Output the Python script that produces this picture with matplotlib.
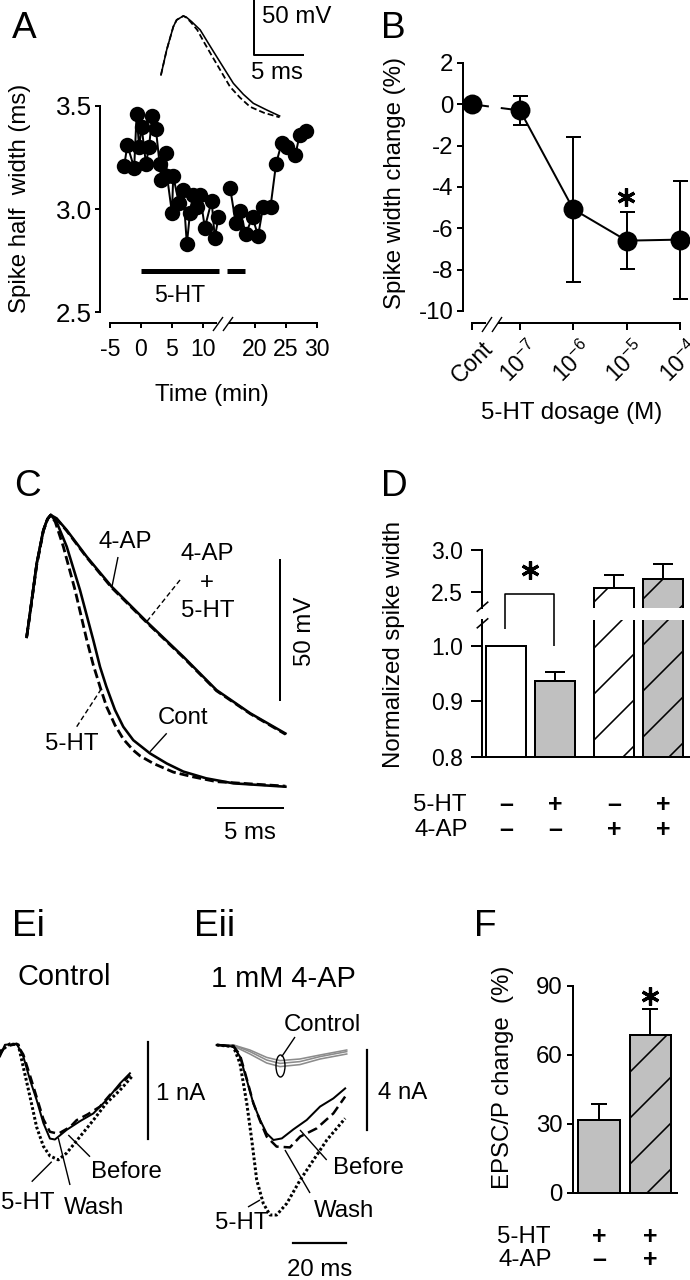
import numpy as np
import matplotlib
matplotlib.use("Agg")
import matplotlib.pyplot as plt
from matplotlib.patches import Ellipse, Rectangle
from matplotlib.transforms import blended_transform_factory

DPI = 138
W, H = 690, 1280


def pt(px):
    # every size below in pixels
    return px * 72.0 / DPI


plt.rcParams['font.family'] = ['Liberation Sans', 'DejaVu Sans']
plt.rcParams['mathtext.fontset'] = 'custom'
plt.rcParams['mathtext.rm'] = 'Liberation Sans'
plt.rcParams['mathtext.it'] = 'Liberation Sans:italic'
plt.rcParams['mathtext.bf'] = 'Liberation Sans:bold'
plt.rcParams['hatch.linewidth'] = pt(1.6)
plt.rcParams['hatch.color'] = 'k'
plt.rcParams['lines.scale_dashes'] = False
plt.rcParams['axes.linewidth'] = pt(2)
plt.rcParams['axes.unicode_minus'] = False

TICK = 23
LAB = 23

# ---- A: spike half width (ms) vs time (min), two segments around the break
a_t1 = [-2.7, -2.2, -1.1, -0.7, -0.3, 0.1, 0.8, 1.3, 1.8, 2.4, 3.0, 3.3, 4.0, 4.2,
        5.0, 5.2, 6.1, 6.8, 7.4, 7.9, 8.4, 9.0, 9.5, 10.3, 11.4, 11.9, 12.5]
a_w1 = [3.21, 3.31, 3.20, 3.46, 3.30, 3.40, 3.22, 3.30, 3.45, 3.39, 3.22, 3.14, 3.27, 3.16,
        2.98, 3.16, 3.03, 3.09, 2.83, 2.98, 3.07, 3.01, 3.07, 2.91, 3.04, 2.86, 2.96]
a_t2 = [16.0, 16.9, 17.6, 18.5, 19.6, 20.5, 21.3, 22.5, 23.4, 24.3, 25.2, 26.5, 27.2, 28.2]
a_w2 = [3.10, 2.93, 2.99, 2.88, 2.96, 2.87, 3.01, 3.01, 3.22, 3.32, 3.30, 3.26, 3.36, 3.38]
a_drug = [(0.0, 12.6), (15.5, 18.4)]
a_xticks = [-5, 0, 5, 10, 20, 25, 30]

# inset spikes in A (ms, mV)
ai_t_cont = [0, 0.58, 1.26, 1.6, 2.28, 2.6, 3.13, 4.0, 4.83, 5.68, 6.53, 7.38, 8.4, 9.42, 10.8, 12.1]
ai_v_cont = [-23.6, -0.9, 20.3, 26.4, 30.0, 28.8, 24.8, 17.3, 5.2, -7.0, -19.1, -31.2, -41.2, -49.4, -55.5, -60.9]
ai_t_5ht = [0, 0.58, 1.26, 1.6, 2.28, 2.55, 3.0, 3.7, 4.5, 5.34, 6.2, 7.04, 8.06, 9.08, 10.5, 12.1]
ai_v_5ht = [-23.6, -0.9, 20.3, 26.4, 30.0, 28.8, 24.8, 17.3, 4.4, -8.5, -21.5, -34.3, -44.2, -52.5, -58.0, -62.1]

# ---- B: dose response
b_labels = ['Cont', '10$^{-7}$', '10$^{-6}$', '10$^{-5}$', '10$^{-4}$']
b_pos = [-7.9, -7, -6, -5, -4]     # log10 dose, control parked left of the break
b_mean = [0.0, -0.3, -5.08, -6.6, -6.55]
b_err = [0.0, 0.68, 3.5, 1.37, 2.85]

# ---- C: spikes with 4-AP (ms, mV)
c_t_4ap = [0, 0.25, 0.77, 1.28, 1.6, 1.85, 2.3, 3.08, 4.62, 6.54, 9.23, 12.05, 14.6, 17.2, 19.9]
c_v_4ap = [-13.5, -5.1, 12.7, 24.6, 28.6, 30.0, 28.8, 24.6, 15.1, 4.4, -8.1, -20.6, -32.5, -40.8, -48.0]
c_v_4ap5ht = [-13.5, -5.4, 12.2, 24.3, 28.5, 30.0, 28.6, 24.3, 14.8, 4.0, -8.4, -20.9, -32.8, -41.0, -48.3]
c_t_cont = [0, 0.25, 0.77, 1.28, 1.6, 1.85, 2.3, 3.08, 4.1, 5.12, 5.64, 6.13, 6.79, 7.43, 8.2,
            9.48, 10.77, 12.05, 13.8, 15.9, 19.9]
c_v_cont = [-13.5, -5.1, 12.7, 24.6, 28.6, 30.0, 27.5, 18.7, 3.2, -14.6, -24.2, -31.3, -39.6, -45.6, -50.4,
            -55.1, -58.7, -61.6, -64.0, -65.8, -67.0]
c_t_5ht = [0, 0.25, 0.77, 1.28, 1.6, 1.85, 2.2, 2.82, 3.72, 4.62, 5.12, 5.64, 6.15, 6.79, 7.43,
           8.2, 8.72, 9.74, 11.28, 12.8, 14.6, 19.9]
c_v_5ht = [-13.5, -5.4, 12.2, 24.3, 28.5, 30.0, 27.5, 18.7, 3.2, -14.6, -23.5, -31.3, -38.5, -45.0, -50.0,
           -54.0, -56.0, -58.7, -61.8, -63.5, -65.2, -66.8]

# ---- D: normalized spike width
d_pos = [0, 1, 2.2, 3.2]
d_height = [1.0, 0.937, 2.54, 2.65]
d_err = [0.0, 0.015, 0.16, 0.18]
d_color = ['white', '#c0c0c0', 'white', '#c0c0c0']
d_hatch = ['', '', '/', '/']
d_5ht = ['\u2013', '+', '\u2013', '+']
d_4ap = ['\u2013', '\u2013', '+', '+']

# ---- Ei: EPSC, control (ms, nA)
ei_t_before = [0, 1.9, 6.4, 8.9, 11.5, 14.0, 16.6, 19.1, 21.0, 25.5, 30.6, 35.7, 40.8, 45.9, 49.7]
ei_i_before = [-0.10, 0.02, 0.03, -0.10, -0.345, -0.55, -0.79, -0.95, -0.96, -0.86, -0.77, -0.69, -0.55, -0.38, -0.275]
ei_t_wash = [0, 1.9, 6.4, 8.9, 11.5, 14.0, 16.6, 19.1, 22.3, 26.8, 29.3, 33.5, 38.2, 42.0, 45.9, 49.7]
ei_i_wash = [-0.08, 0.0, 0.03, -0.08, -0.30, -0.52, -0.75, -0.88, -0.90, -0.83, -0.76, -0.70, -0.62, -0.50, -0.40, -0.29]
ei_t_5ht = [0, 3.8, 7.0, 8.9, 11.5, 14.0, 16.6, 19.1, 22.3, 25.5, 30.6, 35.7, 40.8, 45.9, 50.4]
ei_i_5ht = [-0.05, 0.03, 0.02, -0.21, -0.52, -0.83, -1.03, -1.13, -1.17, -1.10, -0.93, -0.76, -0.58, -0.45, -0.31]

# ---- Eii: EPSC, 1 mM 4-AP (ms, nA)
e2_t_ctrl = [0, 6.4, 12.7, 19.1, 24.2, 31.8, 39.5, 49.7]
e2_ctrl1 = [0, 0, -0.33, -0.75, -0.92, -0.83, -0.58, -0.33]
e2_ctrl2 = [0, -0.05, -0.45, -0.90, -1.08, -0.98, -0.70, -0.45]
e2_ctrl3 = [0, 0, -0.25, -0.62, -0.78, -0.70, -0.50, -0.25]
e2_t_before = [0, 6.4, 8.9, 11.5, 14.0, 16.6, 19.1, 21.7, 24.9, 29.3, 34.4, 39.5, 44.6, 49.1]
e2_i_before = [0, -0.08, -0.58, -1.75, -2.92, -3.75, -4.42, -4.75, -4.67, -4.22, -3.75, -3.08, -2.67, -2.17]
e2_t_wash = [0, 6.4, 8.9, 11.5, 14.0, 16.6, 19.1, 22.9, 28.0, 31.9, 38.2, 44.6, 49.1]
e2_i_wash = [0, -0.05, -0.5, -1.7, -2.9, -3.8, -4.58, -5.08, -5.12, -4.58, -4.17, -3.42, -2.58]
e2_t_5ht = [0, 6.4, 8.9, 11.5, 13.4, 15.3, 17.8, 20.4, 22.9, 26.8, 31.9, 37.0, 42.1, 49.1]
e2_i_5ht = [0, -0.08, -0.92, -2.92, -4.75, -6.75, -7.92, -8.5, -8.5, -7.92, -6.75, -5.75, -4.75, -3.67]

# ---- F: EPSC/P change
f_pos = [0, 1]
f_height = [31.6, 68.7]
f_err = [7.0, 11.3]
f_hatch = ['', '/']
f_5ht = ['+', '+']
f_4ap = ['\u2013', '+']


fig = plt.figure(figsize=(W / DPI, H / DPI), dpi=DPI)


def px_axes(x0, y0, x1, y1, **kw):
    return fig.add_axes([x0 / W, 1 - y1 / H, (x1 - x0) / W, (y1 - y0) / H], **kw)


cv = px_axes(0, 0, W, H, zorder=20)
cv.set_xlim(0, W)
cv.set_ylim(H, 0)
cv.axis('off')


def txt(x, y, s, size=LAB, **kw):
    kw.setdefault('ha', 'center')
    kw.setdefault('va', 'center')
    cv.text(x, y, s, fontsize=pt(size), **kw)


def seg(xs, ys, lw=1.4, **kw):
    cv.plot(xs, ys, color='k', lw=pt(lw), solid_capstyle='butt', **kw)


def frame(ax):
    for s in ('top', 'right'):
        ax.spines[s].set_visible(False)
    ax.tick_params(width=pt(2), labelsize=pt(TICK))
    ax.patch.set_alpha(0)


# ================= A
def fwd(t):
    t = np.asarray(t, dtype=float)
    return np.where(t <= 13, t, np.where(t >= 15, t - 1.61, 13 + (t - 13) * 0.195))


def inv(u):
    u = np.asarray(u, dtype=float)
    return np.where(u <= 13, u, np.where(u >= 13.39, u + 1.61, 13 + (u - 13) / 0.195))


axA = px_axes(100, 100, 317, 323)
axA.set_xscale('function', functions=(fwd, inv))
for t, w in ((a_t1, a_w1), (a_t2, a_w2)):
    axA.plot(t, w, '-o', color='k', lw=pt(2), ms=pt(13.5), clip_on=False)
for t0, t1 in a_drug:
    axA.plot([t0, t1], [2.70, 2.70], color='k', lw=pt(5), solid_capstyle='butt')
axA.text(6.3, 2.58, '5-HT', ha='center', va='center', fontsize=pt(LAB))
axA.set_xlim(-6.61, 30)
axA.set_ylim(2.447, 3.529)
axA.set_xticks(a_xticks)
axA.set_xticklabels([str(v) for v in a_xticks])
axA.set_yticks([2.5, 3.0, 3.5])
axA.set_yticklabels(['2.5', '3.0', '3.5'])
frame(axA)
axA.spines['left'].set_bounds(2.5, 3.5)
axA.spines['bottom'].set_bounds(-5, 30)
axA.tick_params(axis='x', length=pt(5), pad=pt(10))
axA.tick_params(axis='y', length=pt(5), pad=pt(3), labelsize=pt(26))

axAi = px_axes(150, 0, 320, 125)
axAi.plot(ai_t_cont, ai_v_cont, color='k', lw=pt(1.6))
axAi.plot(ai_t_5ht, ai_v_5ht, color='k', lw=pt(1.8), dashes=(pt(6), pt(3)))
axAi.plot([9.49, 9.49, 14.49], [44.5, -5.5, -5.5], color='k', lw=pt(2))
axAi.set_xlim(-1.12, 16.22)
axAi.set_ylim(-69.1, 44.5)
axAi.axis('off')

# ================= B
axB = px_axes(463, 55, 690, 323.3)
axB.plot(b_pos[1:], b_mean[1:], color='k', lw=pt(2))
axB.plot(b_pos[:2], b_mean[:2], color='k', lw=pt(2), dashes=(pt(17), pt(12), pt(40), pt(1)))
axB.errorbar(b_pos[1:], b_mean[1:], yerr=b_err[1:], fmt='none', ecolor='k',
             elinewidth=pt(2), capsize=pt(7.5), capthick=pt(2))
axB.plot(b_pos, b_mean, 'o', color='k', ms=pt(18), clip_on=False, zorder=5)
axB.set_xlim(-8.069, -3.8125)
axB.set_ylim(-10.6, 2.385)
axB.set_yticks([2, 0, -2, -4, -6, -8, -10])
axB.set_xticks(b_pos)
axB.set_xticklabels(b_labels, rotation=45, ha='center', va='top')
frame(axB)
axB.spines['left'].set_bounds(-10, 2)
axB.spines['bottom'].set_bounds(b_pos[0], b_pos[-1])
axB.tick_params(axis='x', length=pt(6.5), pad=pt(7))
axB.tick_params(axis='y', length=pt(6.5), pad=pt(3), labelsize=pt(24))

# ================= C
axC = px_axes(20, 495, 330, 850)
axC.plot(c_t_4ap, c_v_4ap, color='k', lw=pt(2.6))
axC.plot(c_t_4ap, c_v_4ap5ht, color='k', lw=pt(2.6), dashes=(pt(9), pt(4)))
axC.plot(c_t_cont, c_v_cont, color='k', lw=pt(2.6))
axC.plot(c_t_5ht, c_v_5ht, color='k', lw=pt(2.8), dashes=(pt(9), pt(4)))
axC.plot([19.48, 19.48], [13.93, -36.07], color='k', lw=pt(2))
axC.plot([14.7, 19.7], [-74.6, -74.6], color='k', lw=pt(2))
axC.set_xlim(-0.515, 23.33)
axC.set_ylim(-89.6, 37.14)
axC.axis('off')

# ================= D (broken y axis)
axDl = px_axes(481.7, 620, 690, 757.3)
axDu = px_axes(481.7, 550, 690, 608)
for ax in (axDl, axDu):
    ax.bar(d_pos, d_height, width=0.81, color=d_color, edgecolor='k',
           linewidth=pt(2), hatch=d_hatch)
    ax.errorbar(d_pos[1:], d_height[1:], yerr=[np.zeros(3), d_err[1:]], fmt='none',
                ecolor='k', elinewidth=pt(2), capsize=pt(10), capthick=pt(2))
    ax.set_xlim(-0.496, 3.75)
    ax.set_xticks([])
    frame(ax)
    ax.tick_params(axis='y', length=pt(11), pad=pt(8))
axDl.set_ylim(0.8, 1.046)
axDl.set_yticks([0.8, 0.9, 1.0])
axDl.set_yticklabels(['0.8', '0.9', '1.0'])
axDu.set_ylim(2.305, 3.0)
axDu.set_yticks([2.5, 3.0])
axDu.set_yticklabels(['2.5', '3.0'])
axDu.spines['bottom'].set_visible(False)

trD = blended_transform_factory(axDl.transData, cv.transData)
for x, s1, s2 in zip(d_pos, d_5ht, d_4ap):
    axDl.text(x, 805, s1, transform=trD, ha='center', va='center', fontsize=pt(25), fontweight='bold')
    axDl.text(x, 830, s2, transform=trD, ha='center', va='center', fontsize=pt(25), fontweight='bold')

# ================= Ei / Eii
axE1 = px_axes(0, 1030, 160, 1230)
axE1.plot(ei_t_before, ei_i_before, color='k', lw=pt(2))
axE1.plot(ei_t_wash, ei_i_wash, color='k', lw=pt(2.5), dashes=(pt(9), pt(5)))
axE1.plot(ei_t_5ht, ei_i_5ht, color='k', lw=pt(3), dashes=(pt(2.7), pt(2.3)))
axE1.plot([56.7, 56.7], [0.05, -0.95], color='k', lw=pt(2.2))
axE1.set_xlim(0, 61.2)
axE1.set_ylim(-1.896, 0.173)
axE1.axis('off')

axE2 = px_axes(210, 1030, 370, 1250)
for ctrl in (e2_ctrl1, e2_ctrl2, e2_ctrl3):
    axE2.plot(e2_t_ctrl, ctrl, color='#8c8c8c', lw=pt(1.6))
axE2.plot(e2_t_before, e2_i_before, color='k', lw=pt(2))
axE2.plot(e2_t_wash, e2_i_wash, color='k', lw=pt(2.5), dashes=(pt(10), pt(5)))
axE2.plot(e2_t_5ht, e2_i_5ht, color='k', lw=pt(3), dashes=(pt(2.7), pt(2.3)))
axE2.plot([57.4, 57.4], [-0.25, -4.25], color='k', lw=pt(2.2))
axE2.plot([29.3, 49.3], [-9.915, -9.915], color='k', lw=pt(2.2))
axE2.set_xlim(-2.56, 58.6)
axE2.set_ylim(-10.25, 0.75)
axE2.axis('off')

# ================= F
axF = px_axes(573.3, 980, 690, 1192.7)
axF.bar(f_pos, f_height, width=0.81, color='#c0c0c0', edgecolor='k',
        linewidth=pt(2), hatch=f_hatch)
axF.errorbar(f_pos, f_height, yerr=[np.zeros(2), f_err], fmt='none', ecolor='k',
             elinewidth=pt(2), capsize=pt(8), capthick=pt(2))
axF.set_xlim(-0.493, 1.764)
axF.set_ylim(0, 92.6)
axF.set_xticks([])
axF.set_yticks([0, 30, 60, 90])
frame(axF)
axF.spines['left'].set_bounds(0, 90)
axF.spines['bottom'].set_bounds(-0.493, 1.507)
axF.tick_params(axis='y', length=pt(6.5), pad=pt(4), labelsize=pt(24))
trF = blended_transform_factory(axF.transData, cv.transData)
for x, s1, s2 in zip(f_pos, f_5ht, f_4ap):
    axF.text(x, 1237, s1, transform=trF, ha='center', va='center', fontsize=pt(25), fontweight='bold')
    axF.text(x, 1260, s2, transform=trF, ha='center', va='center', fontsize=pt(25), fontweight='bold')

# ================= labels and annotations (pixel positions)
for x, y, s in ((12, 29, 'A'), (381, 29, 'B'), (14, 487, 'C'), (381, 487, 'D'),
                (12, 926, 'Ei'), (194, 926, 'Eii'), (474, 926, 'F')):
    txt(x, y, s, size=37, ha='left')

txt(20, 198, 'Spike half  width (ms)', rotation=90, size=24)
txt(212, 395, 'Time (min)', size=24)
txt(262, 17, '50 mV', ha='left', size=24)
txt(277, 73, '5 ms', size=24)

txt(395, 183, 'Spike width change (%)', rotation=90, size=24)
txt(572, 413, '5-HT dosage (M)', size=24)

# axis breaks
cv.add_patch(Rectangle((218, 319), 10, 8, color='white', zorder=3))
seg([213, 223], [331, 317], zorder=4)
seg([223, 233], [331, 317], zorder=4)
cv.add_patch(Rectangle((487, 319), 10, 8, color='white', zorder=3))
seg([482, 492], [332, 317], zorder=4)
seg([492, 502], [332, 317], zorder=4)
seg([476.7, 488.3], [611.7, 601.7], lw=1.6)
seg([476.7, 488.3], [628.3, 618.3], lw=1.6)

# asterisks
for x, y in ((626, 197), (530, 570), (650, 996)):
    cv.plot(x, y, marker=(6, 2, 0), ms=pt(18), mew=pt(3.2), color='k')

# C labels
txt(125, 542, '4-AP', size=24)
seg([118, 111.7], [557, 588])
txt(207, 554, '4-AP', size=24)
txt(207, 583, '+', size=24)
txt(208, 611, '5-HT', size=24)
seg([180, 146.7], [580, 621.7], dashes=(pt(5), pt(3)))
txt(183, 718, 'Cont', size=24)
seg([166.7, 150], [733.3, 751.7])
txt(72, 744, '5-HT', size=24)
seg([76.7, 101.7], [726.7, 688.3], dashes=(pt(5), pt(3)))
txt(305, 631, '50 mV', rotation=90, size=24)
txt(250, 833, '5 ms', size=24)

# D labels
seg([505, 505, 554, 554], [629, 594, 594, 646], lw=1.6)
txt(394, 645, 'Normalized spike width', rotation=90, size=24)
txt(466, 805, '5-HT', ha='right', size=24)
txt(468, 830, '4-AP', ha='right', size=24)

# Ei labels
txt(64, 977, 'Control', size=29)
txt(181, 1094, '1 nA', size=24)
txt(126, 1172, 'Before', size=24)
seg([90, 68.3], [1156.7, 1135])
txt(94, 1208, 'Wash', size=24)
seg([70, 58.3], [1185, 1138])
txt(28, 1203, '5-HT', size=24)
seg([31.7, 51.7], [1181.7, 1161.7])

# Eii labels
txt(283, 979, '1 mM 4-AP', size=29)
txt(322, 1025, 'Control', size=24)
seg([295, 281.7], [1037, 1056.7])
cv.add_patch(Ellipse((280.5, 1066), 9, 22, fill=False, edgecolor='k', lw=pt(1.4)))
txt(403, 1093, '4 nA', size=24)
txt(368, 1168, 'Before', size=24)
seg([326.7, 300], [1160, 1130])
txt(344, 1211, 'Wash', size=24)
seg([310, 285], [1193, 1150])
txt(242, 1223, '5-HT', size=24)
seg([248, 260], [1207, 1200])
txt(320, 1270, '20 ms', size=24)

# F labels
txt(503, 1077, 'EPSC/P change  (%)', rotation=90, size=24)
txt(550, 1237, '5-HT', ha='right', size=24)
txt(552, 1260, '4-AP', ha='right', size=24)

fig.savefig('out.png', dpi=DPI)
